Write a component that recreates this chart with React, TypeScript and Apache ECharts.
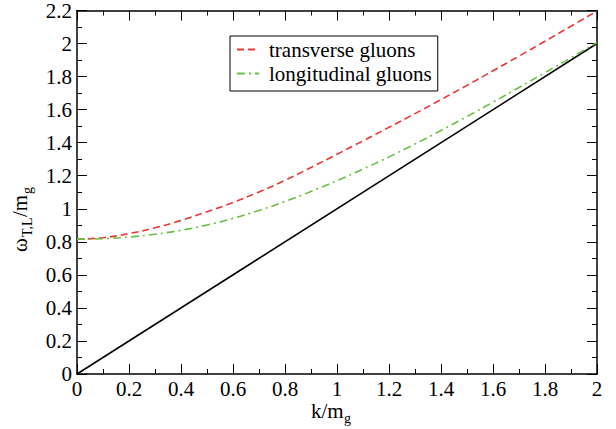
import React, { useEffect, useRef } from "react";
import * as echarts from "echarts";

const kValues = [0, 0.1, 0.2, 0.3, 0.4, 0.5, 0.6, 0.7, 0.8, 0.9, 1.0, 1.1, 1.2, 1.3, 1.4, 1.5, 1.6, 1.7, 1.8, 1.9, 2.0];
const transverse = [0.816, 0.825, 0.850, 0.885, 0.930, 0.982, 1.038, 1.102, 1.172, 1.250, 1.330, 1.411, 1.493, 1.576, 1.661, 1.747, 1.835, 1.924, 2.014, 2.105, 2.197];
const longitudinal = [0.816, 0.819, 0.829, 0.846, 0.870, 0.902, 0.942, 0.990, 1.044, 1.105, 1.170, 1.240, 1.314, 1.392, 1.474, 1.558, 1.645, 1.734, 1.824, 1.914, 2.006];
const lightCone = [[0, 0], [2, 2]];
const seriesNames = ["transverse gluons", "longitudinal gluons"];

const FONT = "Liberation Serif";

export default function App() {
  const ref = useRef<HTMLDivElement>(null);
  useEffect(() => {
    const chart = echarts.init(ref.current!, null, { renderer: "svg" });
    const fmt = (v: number) => String(Math.round(v * 10) / 10);
    const axisCommon = {
      axisLine: { show: true, onZero: false, lineStyle: { color: "#000", width: 1.5 } },
      axisTick: { show: true, inside: true, length: 10, lineStyle: { color: "#000", width: 1 } },
      minorTick: { show: true, splitNumber: 2, length: 5, lineStyle: { color: "#000", width: 1 } },
      splitLine: { show: false },
    };
    const txt = (text: string, x: number, y: number, size: number) => ({
      type: "text", x, y,
      style: { text, fontFamily: FONT, fontSize: size, fill: "#000", verticalAlign: "middle" },
    });
    chart.setOption({
      animation: false,
      backgroundColor: "#fff",
      grid: { left: 77, right: 19, top: 10, bottom: 55 },
      legend: {
        data: seriesNames,
        orient: "vertical",
        left: 230,
        top: 36,
        itemWidth: 22,
        itemHeight: 10,
        itemGap: 3,
        padding: [3, 6, 7, 6],
        borderColor: "#000",
        borderWidth: 1,
        backgroundColor: "#fff",
        itemStyle: { opacity: 0 },
        textStyle: { fontFamily: FONT, fontSize: 21, color: "#000", padding: [0, 0, 0, 5] },
      },
      xAxis: [
        {
          type: "value", min: 0, max: 2, interval: 0.2, position: "bottom",
          ...axisCommon,
          axisLabel: { formatter: fmt, fontFamily: FONT, fontSize: 21, color: "#000", margin: 4 },
        },
        {
          type: "value", min: 0, max: 2, interval: 0.2, position: "top",
          ...axisCommon,
          axisLabel: { show: false },
        },
      ],
      yAxis: [
        {
          type: "value", min: 0, max: 2.2, interval: 0.2, position: "left",
          ...axisCommon,
          axisLabel: { formatter: fmt, fontFamily: FONT, fontSize: 21, color: "#000", margin: 5 },
        },
        {
          type: "value", min: 0, max: 2.2, interval: 0.2, position: "right",
          ...axisCommon,
          axisLabel: { show: false },
        },
      ],
      series: [
        {
          name: "light cone",
          type: "line",
          data: lightCone,
          symbol: "none",
          lineStyle: { color: "#000", width: 1.6 },
          z: 2,
        },
        {
          name: seriesNames[0],
          type: "line",
          data: kValues.map((k, i) => [k, transverse[i]]),
          smooth: true,
          symbol: "none",
          itemStyle: { color: "#f03535" },
          lineStyle: { color: "#f03535", width: 1.6, type: [7, 4] },
          z: 3,
        },
        {
          name: seriesNames[1],
          type: "line",
          data: kValues.map((k, i) => [k, longitudinal[i]]),
          smooth: true,
          symbol: "none",
          itemStyle: { color: "#6abf45" },
          lineStyle: { color: "#6abf45", width: 1.6, type: [8, 4, 2, 4] },
          z: 3,
        },
      ],
      graphic: [
        txt("k/m", 311, 411, 21),
        txt("g", 344, 418, 14),
        {
          type: "group",
          x: 20,
          y: 252,
          rotation: Math.PI / 2,
          children: [
            txt("ω", 0, 0, 21),
            txt("T,L", 15, 7, 14),
            txt("/m", 35, 0, 21),
            txt("g", 58, 7, 14),
          ],
        },
      ],
    });
    return () => chart.dispose();
  }, []);
  return <div ref={ref} style={{ width: 616, height: 429, position: "absolute", left: 0, top: 0 }} />;
}
